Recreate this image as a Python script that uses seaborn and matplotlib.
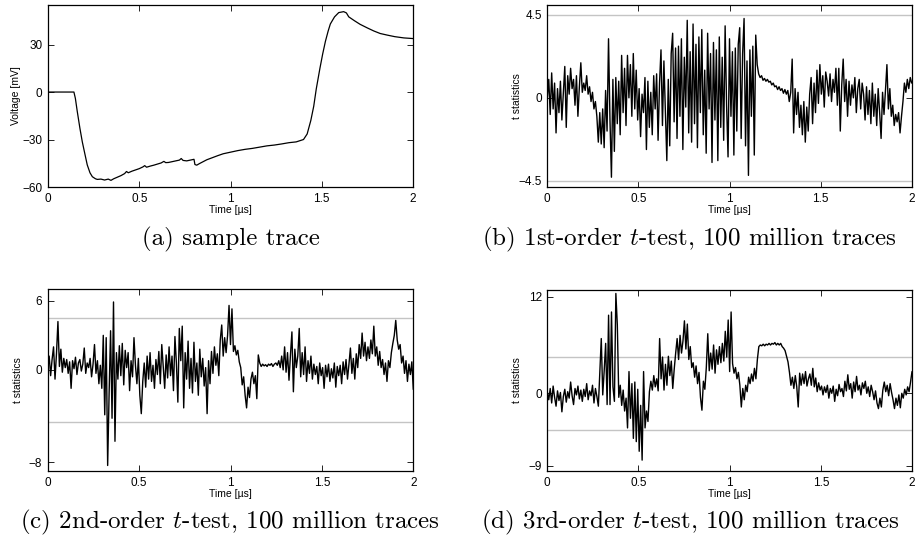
import numpy as np
import matplotlib
matplotlib.use("Agg")
import matplotlib.pyplot as plt
import seaborn as sns

# (a) sample trace
time_a = [0, 0.05, 0.10, 0.142, 0.15, 0.16, 0.175, 0.188, 0.20, 0.215, 0.23, 0.243,
          0.26, 0.27, 0.29, 0.31, 0.33, 0.345, 0.36, 0.38, 0.40, 0.42, 0.43, 0.44,
          0.46, 0.48, 0.50, 0.52, 0.53, 0.54, 0.56, 0.58, 0.60, 0.62, 0.635, 0.645,
          0.66, 0.68, 0.70, 0.72, 0.73, 0.74, 0.76, 0.78, 0.80, 0.805, 0.815, 0.83,
          0.85, 0.87, 0.90, 0.93, 0.96, 1.0, 1.04, 1.08, 1.12, 1.16, 1.2, 1.24, 1.28,
          1.32, 1.36, 1.40, 1.42, 1.44, 1.456, 1.47, 1.49, 1.505, 1.52, 1.535, 1.547,
          1.57, 1.593, 1.62, 1.635, 1.648, 1.68, 1.71, 1.75, 1.785, 1.82, 1.858, 1.9,
          1.95, 2.0]
volt_a = [0, 0, 0, 0, -4, -12, -23, -31.5, -38, -46, -51, -53.5,
          -54.8, -55.2, -55.0, -55.6, -55.0, -55.8, -54.8, -53.8, -52.8, -51.5, -50.2, -51.0,
          -50.0, -49.2, -48.4, -47.3, -46.5, -47.5, -46.8, -46.2, -45.5, -44.8, -43.8, -44.6,
          -44.5, -44.0, -43.5, -43.0, -42.0, -43.2, -43.5, -43.0, -42.5, -45.8, -46.2, -45.2,
          -44.0, -42.8, -41.5, -40.2, -39.0, -38.0, -37.0, -36.2, -35.6, -34.8, -34.0, -33.5, -32.8,
          -32.0, -31.5, -30.0, -26.5, -18, -9, 2, 15, 24, 32, 38.5, 43,
          47.5, 50.2, 50.8, 50.0, 47.5, 45.0, 42.8, 40.5, 38.6, 37.0, 36.0, 35.0,
          34.2, 33.8]

# (b) 1st-order t-test, one value every 0.008 us
t1 = [0.0, 1.0, -0.9, 1.35, -0.6, 0.8, -1.9, 0.5, -0.8, 0.9, -1.2, 0.3, 1.7, -1.6, 1.2, 0.2, 1.6, 0.5, 1.0, -0.4, 1.2, -1.0, 0.6, 1.9, 0.3,
      0.8, 0.4, 1.2, 0.2, 0.6, -0.2, 0.3, -0.6, -0.2, -1.0, -2.4, -0.8, -2.5, -0.6, -2.7, 0.4, -1.8, 3.2, -1.2, -4.3, 1.0, -2.9, 1.1, -1.4, 0.9,
      -2.0, 2.3, -0.8, 1.6, -1.5, 2.3, 0.0, 1.8, -1.0, 2.4, -0.6, 1.5, -1.2, 0.5, -2.1, 0.2, -0.8, 1.1, -2.8, 0.9, -1.6, 0.3, -2.0, 1.2, -0.6,
      1.3, -2.3, 0.8, 2.6, -1.5, 2.0, -0.8, -3.4, 1.0, -2.6, 2.4, 3.5, -1.3, 2.7, -2.2, 2.8, -1.0, 3.2, -2.8, 2.2, -0.5, 4.2, -1.9, 2.5, -2.4,
      4.0, -1.4, 2.9, -2.7, 3.3, -0.8, 3.7, -2.0, 1.5, -3.0, 3.5, -0.6, 2.4, -3.5, 3.0, -1.2, 2.6, -3.4, 3.3, -1.6, 2.2, -2.3, 3.9, -0.4, -3.2,
      3.2, -1.0, 2.5, -3.1, 2.7, -1.8, 2.9, 3.8, -2.2, 2.4, 4.3, -2.6, 2.0, -4.2, 2.6, -1.0, 2.8, -3.1, 3.4, 1.8, 1.3, 1.1, 1.2, 0.95, 1.05,
      0.9, 1.0, 0.85, 0.9, 0.7, 0.8, 0.6, 0.65, 0.45, 0.6, 0.4, 0.5, 0.25, 0.45, 0.2, 0.4, -0.2, 0.3, 2.1, -1.9, 0.5, -0.9, 0.3, -1.6, -0.4,
      -2.0, -0.2, -2.4, -0.5, -1.8, 0.2, 1.1, -1.4, 0.8, -0.8, 1.5, -0.3, 1.8, 0.2, 1.2, -0.5, 1.4, 0.9, 0.1, 1.3, -0.2, 1.0, 0.3, 1.6, -0.4,
      1.6, -1.8, 0.7, 2.1, -0.2, 1.0, -1.0, 0.9, -0.4, 0.7, 0.0, 1.1, -0.8, 0.5, 1.0, -0.6, 0.8, 0.2, -1.2, 0.6, -0.9, 0.4, -1.4, 0.8, -1.0,
      0.2, -1.5, 0.5, -0.8, -2.2, 0.3, -0.9, 0.4, 1.8, -0.6, 0.5, -1.0, -0.4, -1.5, -0.9, -1.3, -0.8, -1.9, -1.0, -0.2, 0.8, 0.3, 1.0, 0.5, 1.1,
      0.8]

# (c) 2nd-order t-test
t2 = [0.0, 1.2, -0.5, 0.9, 2.0, -0.8, 1.4, 4.2, 0.3, 1.8, -0.2, 1.0, 0.2, 0.9, -0.3, 0.7, -1.6, 0.8, 0.1, 1.1, -0.4, 0.6, 0.9, -0.1, 0.5,
      1.9, -0.3, 0.6, 0.2, 1.0, -0.6, 0.5, 2.2, -0.3, 0.8, -1.2, 0.4, -1.6, 3.0, -3.9, 2.8, -8.3, -2.0, 3.4, -4.2, 5.9, -6.2, 1.5, -0.8, 2.1,
      -0.5, 2.3, -1.3, 1.7, 0.2, 1.5, -1.8, 0.8, -0.6, 2.8, 0.4, -1.2, 1.0, -2.2, -3.8, -1.0, 0.6, -1.5, 1.2, -0.8, 1.5, -1.0, 0.4, -1.6, 0.9,
      -0.4, 1.6, -1.2, 2.2, 0.3, -1.6, 1.3, -0.7, 2.0, -0.5, 1.2, -1.8, 2.9, 0.6, -2.8, 3.6, 0.8, 3.8, -3.3, 1.5, -0.8, 2.5, -1.6, 1.0, -2.0,
      2.4, -1.0, 0.6, -2.2, 1.8, -0.6, 1.0, -1.4, 0.2, -3.8, 0.8, -1.2, 1.6, -0.3, 2.0, 0.4, 1.4, -0.5, 2.6, 3.9, 1.2, 2.8, 1.5, 3.0, 5.6,
      2.2, 5.3, 1.6, 2.1, 1.3, 1.7, 0.7, 0.2, -1.3, -0.6, -2.2, -3.3, -1.5, -2.4, -0.8, -0.2, -1.2, -0.5, -2.5, 1.3, 0.6, 0.3, 0.5, 0.35, 0.45,
      0.3, 0.5, 0.4, 0.55, 0.3, 0.5, 0.6, 0.4, 0.8, 0.2, 1.2, 0.0, 2.0, -0.2, 1.5, -0.9, 1.3, 3.3, -1.9, 1.8, 0.2, 1.2, 3.6, -0.6, 1.5,
      -0.4, 2.0, -1.0, 0.8, -0.3, 1.2, -0.8, 0.5, -0.4, 0.3, -1.2, 0.6, -0.5, 0.2, -1.6, 0.4, -0.6, 0.5, -1.0, 0.1, -0.7, 0.6, -1.5, 0.3, -0.5,
      0.4, -1.2, 0.7, -0.4, 0.9, -0.8, 0.5, 1.9, -0.3, 1.0, -0.8, 1.4, 0.2, 2.2, 1.0, 3.2, 1.2, 2.4, 0.8, 2.0, 1.0, 2.6, 1.4, 3.8, 1.2,
      2.0, 0.4, 1.6, 0.2, 0.9, -0.4, 0.6, -1.0, 0.8, 0.2, 1.5, 2.3, 3.0, 4.3, 2.6, 1.8, 2.2, 0.6, 1.2, -0.3, 0.8, -1.0, 0.5, -0.4, 0.7,
      -1.7]

# (d) 3rd-order t-test
t3 = [0.2, -0.8, 0.6, -1.2, 0.9, -0.5, -1.6, 0.3, -0.9, 0.1, -2.3, -0.4, 0.5, -1.1, 0.2, -0.6, 1.4, -0.3, -1.4, 0.6, -0.2, 0.9, -0.7, 0.4, -1.0,
      0.5, -0.4, 1.2, -0.8, 0.3, -0.3, 1.0, -1.2, 0.6, -0.4, -1.6, 2.5, 6.8, -0.2, 2.8, 6.2, -1.4, 9.7, -1.4, 10.1, 0.8, -1.0, 12.4, 8.5, -0.5,
      1.0, -1.5, 0.4, -2.2, -0.6, -4.3, 2.7, -3.1, 1.2, -5.6, 1.4, -6.0, 0.5, -7.2, -1.5, -8.3, 2.7, -4.3, -2.2, -3.5, 0.2, 1.5, 0.4, 2.2, 0.8,
      1.8, 0.3, 6.8, 1.8, 4.5, 0.4, 3.6, 1.0, 4.6, 2.2, 4.0, 0.6, 3.0, 5.0, 6.8, 4.2, 7.2, 5.0, 6.5, 9.0, 5.5, 8.6, 4.2, 5.8, 3.2,
      3.8, 2.0, 3.4, 1.2, 2.6, -0.5, -2.1, 1.5, 0.5, 3.2, 7.4, 2.8, 5.0, 3.0, 6.0, 2.5, 5.4, 3.6, 5.8, 3.8, 6.2, 4.0, 7.7, 4.5, 9.1,
      2.7, 10.1, 3.7, 2.5, 3.2, 1.8, 2.6, 1.0, -1.7, 0.6, -0.8, 1.0, 0.2, 2.0, 1.2, 2.4, 1.5, 3.1, 1.8, 4.2, 5.8, 6.0, 5.9, 6.1, 5.9,
      6.1, 6.0, 6.2, 6.0, 6.2, 6.1, 6.3, 6.0, 6.2, 6.0, 6.2, 5.8, 5.6, 5.3, 4.6, 3.9, 2.6, 1.0, 2.0, 0.6, 2.2, 0.8, -1.7, 2.5, 1.0,
      2.4, 1.2, 2.7, 0.9, 1.8, 2.4, 1.0, 3.1, 0.8, 1.9, 0.2, 1.3, 0.4, 0.9, -0.2, 0.8, 0.1, 1.0, -0.6, 0.6, 0.0, 0.9, -1.0, 0.5, -0.3,
      1.1, 0.2, 0.6, -0.4, 1.5, 0.3, 2.3, 0.5, 1.2, -0.6, 1.4, 0.2, 2.1, 0.4, 1.0, -0.2, 1.3, 0.6, 1.5, 0.0, 0.8, -0.4, 1.0, 0.2, -0.8,
      0.3, -1.2, -1.9, -0.6, -1.7, 0.4, 1.4, 0.2, 1.0, -0.3, 1.2, 0.1, -0.8, -1.9, -0.6, -1.5, -0.2, -1.8, 0.0, -0.6, 0.5, -0.2, 0.8, 0.2, 1.4,
      2.7]

x_ticks = [0, 0.5, 1, 1.5, 2]
x_tick_labels = ["0", "0.5", "1", "1.5", "2"]
threshold = 4.5

captions = ["(a) sample trace",
            "(b) 1st-order $t$-test, 100 million traces",
            "(c) 2nd-order $t$-test, 100 million traces",
            "(d) 3rd-order $t$-test, 100 million traces"]

sns.set_theme(style="white")
plt.rcParams['font.family'] = ['Liberation Sans', 'DejaVu Sans']
plt.rcParams['mathtext.fontset'] = 'cm'

fig = plt.figure(figsize=(9.15, 5.47), dpi=100)
W, H = 915, 547


def make_axes(left, top, right, bottom):
    return fig.add_axes([left / W, 1 - bottom / H, (right - left) / W, (bottom - top) / H])


def style(ax, yticks, ylabels, ylim, ylabel, ylab_x, xlab_y):
    ax.set_xlim(0, 2)
    ax.set_ylim(*ylim)
    ax.set_xticks(x_ticks, x_tick_labels)
    ax.set_yticks(yticks, ylabels)
    ax.tick_params(direction='in', length=4, width=0.6, top=True, right=True,
                   bottom=True, left=True, labelsize=8.5, pad=4, colors='black')
    for s in ax.spines.values():
        s.set_visible(True)
        s.set_color('black')
        s.set_linewidth(0.9)
    ax.set_xlabel("Time [µs]", fontsize=7.5, color='black')
    ax.xaxis.set_label_coords(0.5, xlab_y)
    ax.set_ylabel(ylabel, fontsize=7.5, color='black')
    ax.yaxis.set_label_coords(ylab_x, 0.5)


ax_a = make_axes(48, 5, 413, 187)
ax_b = make_axes(547.3, 5, 911.7, 187)
ax_c = make_axes(47.7, 289.3, 413.3, 471)
ax_d = make_axes(547.3, 290, 912, 471)

sns.lineplot(x=time_a, y=volt_a, ax=ax_a, color='black', lw=0.9)
style(ax_a, [-60, -30, 0, 30], ["\u221260", "\u221230", "0", "30"], (-60, 55),
      "Voltage [mV]", -0.074, -0.10)

for ax, vals, yt, yl, lim, lx in [
        (ax_b, t1, [-4.5, 0, 4.5], ["\u22124.5", "0", "4.5"], (-4.83, 5.03), -0.070),
        (ax_c, t2, [-8, 0, 6], ["\u22128", "0", "6"], (-8.78, 7.0), -0.067),
        (ax_d, t3, [-9, 0, 12], ["\u22129", "0", "12"], (-9.65, 12.83), -0.070)]:
    tt = np.linspace(0, 2, len(vals))
    ax.axhline(threshold, color='#c4c4c4', lw=1.0, zorder=1)
    ax.axhline(-threshold, color='#c4c4c4', lw=1.0, zorder=1)
    sns.lineplot(x=tt, y=vals, ax=ax, color='black', lw=1.0, zorder=2)
    style(ax, yt, yl, lim, "t statistics", lx, -0.10)

for (cx, cy), text in zip([(231, 239), (689, 239), (230, 522), (690, 522)], captions):
    fig.text(cx / W, 1 - cy / H, text, ha='center', va='center', fontsize=18,
             fontfamily='cmr10', color='black')

fig.savefig("out.png", dpi=100)
